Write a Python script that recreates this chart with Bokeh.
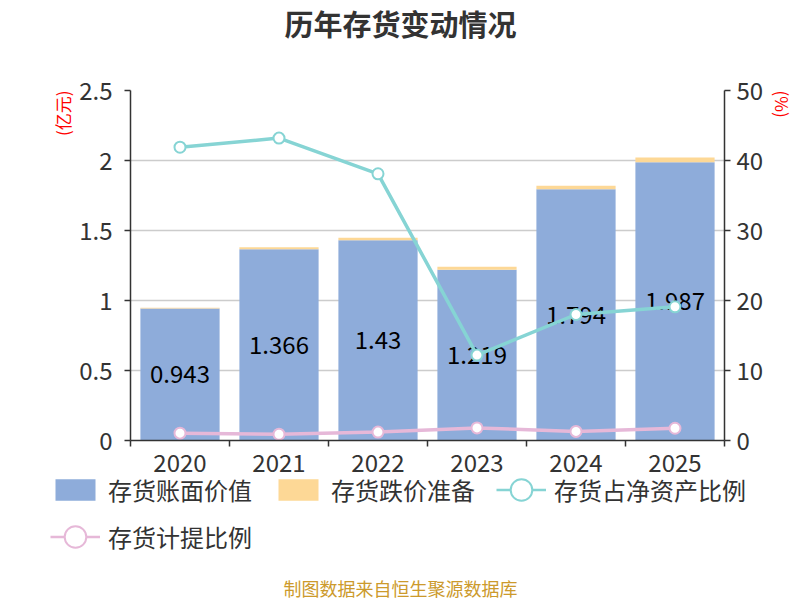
from bokeh.plotting import figure
from bokeh.layouts import column
from bokeh.models import (ColumnDataSource, Range1d, LinearAxis, FixedTicker,
                          Legend, LegendItem, Title, Label)
from bokeh.embed import file_html
from bokeh.resources import INLINE
from bokeh.core.properties import value

years = ["2020", "2021", "2022", "2023", "2024", "2025"]
book_value = [0.943, 1.366, 1.43, 1.219, 1.794, 1.987]
impairment = [0.006, 0.015, 0.019, 0.022, 0.026, 0.035]
inv_to_equity = [41.9, 43.2, 38.1, 12.2, 18.0, 19.1]
provision_ratio = [1.05, 0.9, 1.2, 1.8, 1.3, 1.75]
left_ticks = [0, 0.5, 1, 1.5, 2, 2.5]
left_tick_labels = ["0", "0.5", "1", "1.5", "2", "2.5"]
right_ticks = [0, 10, 20, 30, 40, 50]
series_names = ["存货账面价值", "存货跌价准备", "存货占净资产比例", "存货计提比例"]

FONT = "Noto Sans CJK SC"
BLUE = "#8eacda"
ORANGE = "#fdd896"
TEAL = "#86d4d4"
PINK = "#e6b8d8"
AXIS = "#333333"

W = 800
H_HEAD, H_MAIN = 60, 418
H_LEG = 600 - H_HEAD - H_MAIN


def blank_fig(h):
    f = figure(width=W, height=h, output_backend="svg", toolbar_location=None,
               x_range=Range1d(-100, -99), y_range=Range1d(-100, -99),
               min_border=0, outline_line_color=None, frame_align=False)
    f.axis.visible = False
    f.grid.visible = False
    return f


# ---------- header (title) ----------
head = blank_fig(H_HEAD)
head.add_layout(Label(x=W / 2, y=H_HEAD - 22, x_units="screen", y_units="screen",
                      text="历年存货变动情况", text_font=FONT,
                      text_font_size="29px", text_font_style="bold", text_color=AXIS,
                      text_align="center", text_baseline="middle"))

# ---------- main chart ----------
idx = list(range(len(years)))
src = ColumnDataSource(dict(
    x=idx,
    book=book_value,
    top=[b + i for b, i in zip(book_value, impairment)],
    mid=[b / 2 for b in book_value],
    lbl=[f"{b:g}" for b in book_value],
    r1=inv_to_equity,
    r2=provision_ratio,
))

p = figure(width=W, height=H_MAIN, output_backend="svg", toolbar_location=None,
           x_range=Range1d(-0.5, len(years) - 0.5), y_range=Range1d(0, 2.5),
           min_border_left=130, min_border_right=75, min_border_top=30,
           min_border_bottom=38, outline_line_color=None)
p.extra_y_ranges = {"r": Range1d(0, 50)}

p.vbar(x="x", top="book", bottom=0, width=0.8, source=src,
       fill_color=BLUE, line_color=None)
p.vbar(x="x", top="top", bottom="book", width=0.8, source=src,
       fill_color=ORANGE, line_color=None)

p.text(x="x", y="mid", text="lbl", source=src, text_font=value(FONT),
       text_font_size="24px", text_align="center", text_baseline="middle",
       text_color="#000000")

p.line(x="x", y="r1", source=src, y_range_name="r", line_color=TEAL, line_width=3.5)
p.scatter(x="x", y="r1", source=src, y_range_name="r", marker="circle", size=11,
          fill_color="white", line_color=TEAL, line_width=2)
p.line(x="x", y="r2", source=src, y_range_name="r", line_color=PINK, line_width=3.5)
p.scatter(x="x", y="r2", source=src, y_range_name="r", marker="circle", size=11,
          fill_color="white", line_color=PINK, line_width=2)


def style_axis(ax):
    ax.axis_line_color = AXIS
    ax.axis_line_width = 1.5
    ax.major_tick_line_color = AXIS
    ax.major_tick_line_width = 1.5
    ax.major_tick_out = 6
    ax.major_tick_in = 0
    ax.minor_tick_line_color = None
    ax.major_label_text_font = FONT
    ax.major_label_text_font_size = "24px"
    ax.major_label_text_color = AXIS
    ax.major_label_standoff = 6


ly = p.yaxis[0]
ly.ticker = FixedTicker(ticks=left_ticks)
ly.major_label_overrides = {t: s for t, s in zip(left_ticks, left_tick_labels)}
style_axis(ly)
ly.major_label_standoff = 12

ry = LinearAxis(y_range_name="r", ticker=FixedTicker(ticks=right_ticks))
style_axis(ry)
p.add_layout(ry, "right")

bx = p.xaxis[0]
bx.ticker = FixedTicker(ticks=idx, minor_ticks=[i - 0.5 for i in range(len(years) + 1)])
bx.major_label_overrides = {i: y for i, y in zip(idx, years)}
style_axis(bx)
bx.major_tick_line_color = None
bx.minor_tick_line_color = AXIS
bx.minor_tick_line_width = 1.5
bx.minor_tick_out = 6
bx.minor_tick_in = 0
bx.major_label_standoff = 7

p.xgrid.grid_line_color = None
p.ygrid.grid_line_color = "#cccccc"
p.ygrid.grid_line_width = 1.5

p.add_layout(Title(text="(亿元)", align="right", text_font=FONT, text_font_size="17px",
                   text_color="red", text_font_style="normal", standoff=4), "left")
p.add_layout(Title(text="(%)", align="left", text_font=FONT, text_font_size="17px",
                   text_color="red", text_font_style="normal", standoff=7), "right")

# ---------- legend + footer ----------
# renderers that only supply legend swatches; their data lies outside this
# figure's ranges so nothing is drawn in the figure itself
leg = blank_fig(H_LEG)
g1 = leg.vbar(x="x", top="book", width=0.8, source=src, fill_color=BLUE, line_color=None)
g2 = leg.vbar(x="x", top="top", bottom="book", width=0.8, source=src,
              fill_color=ORANGE, line_color=None)
g3l = leg.line(x="x", y="r1", source=src, line_color=TEAL, line_width=2.5)
g3e = leg.ellipse(x="x", y="r1", width=10, height=10, width_units="screen",
                  height_units="screen", source=src, fill_color="white",
                  line_color=TEAL, line_width=2)
g4l = leg.line(x="x", y="r2", source=src, line_color=PINK, line_width=2.5)
g4e = leg.ellipse(x="x", y="r2", width=10, height=10, width_units="screen",
                  height_units="screen", source=src, fill_color="white",
                  line_color=PINK, line_width=2)

common = dict(orientation="horizontal", glyph_width=50, glyph_height=27,
              label_height=24, label_standoff=8, spacing=21, padding=0, margin=0,
              border_line_color=None, background_fill_alpha=0,
              label_text_font=FONT, label_text_font_size="24px",
              label_text_color=AXIS, label_text_baseline="middle")

legend_a = Legend(items=[
    LegendItem(label=series_names[0], renderers=[g1]),
    LegendItem(label=series_names[1], renderers=[g2]),
    LegendItem(label=series_names[2], renderers=[g3l, g3e]),
], location=(50, H_LEG - 29), **common)
legend_b = Legend(items=[
    LegendItem(label=series_names[3], renderers=[g4l, g4e]),
], location=(50, H_LEG - 76), **common)
leg.add_layout(legend_a, "center")
leg.add_layout(legend_b, "center")

leg.add_layout(Label(x=W / 2, y=H_LEG - 109, x_units="screen", y_units="screen",
                     text="制图数据来自恒生聚源数据库", text_font=FONT,
                     text_font_size="18px", text_color="#cc9a2c",
                     text_align="center", text_baseline="middle"))

layout = column(head, p, leg, spacing=0)
open("out.html", "w").write(file_html(layout, INLINE))
